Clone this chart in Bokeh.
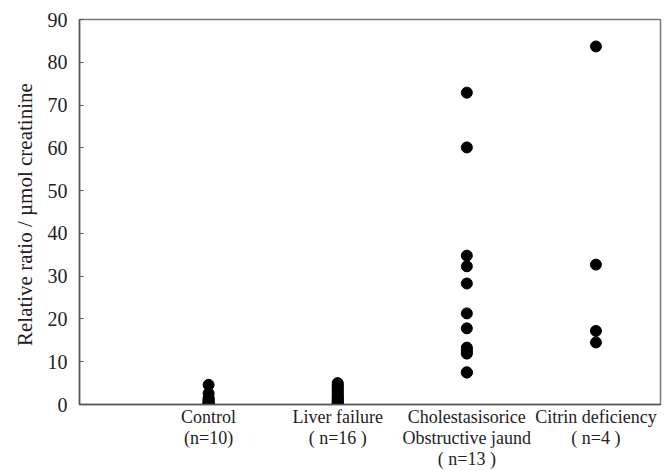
from bokeh.plotting import figure
from bokeh.models import FixedTicker, Range1d
from bokeh.embed import file_html
from bokeh.resources import INLINE

categories = ["Control", "Liver failure", "Cholestasis", "Citrin deficiency"]
cat_labels = ["Control\n(n=10)", "Liver failure\n( n=16 )",
              "Cholestasisorice\nObstructive jaund\n( n=13 )",
              "Citrin deficiency\n( n=4 )"]

control = [4.6, 2.6, 1.6, 1.2, 0.9, 0.6, 0.4, 0.3, 0.2, 0.1]
liver_failure = [5.0, 4.6, 4.2, 3.8, 3.4, 3.0, 2.6, 2.2, 1.8, 1.5, 1.2, 0.9, 0.6, 0.4, 0.2, 0.1]
cholestasis = [72.9, 60.1, 34.8, 32.3, 28.3, 21.3, 17.8, 13.3, 12.8, 12.3, 11.9, 7.5, 7.5]
citrin = [83.7, 32.7, 17.2, 14.5]

y_ticks = [0, 10, 20, 30, 40, 50, 60, 70, 80, 90]

groups = [control, liver_failure, cholestasis, citrin]

p = figure(width=664, height=471, output_backend="svg", toolbar_location=None,
           x_range=Range1d(0, 4.5), y_range=Range1d(0, 90),
           min_border_left=79, min_border_right=4, min_border_top=19, min_border_bottom=60)

xs, ys = [], []
for i, g in enumerate(groups):
    xs += [i + 1] * len(g)
    ys += g
p.scatter(xs, ys, size=11, color="black")

p.grid.visible = False
p.outline_line_color = "#777777"
p.outline_line_width = 1.5

font = "Liberation Serif"
ya = p.yaxis[0]
ya.ticker = FixedTicker(ticks=y_ticks)
ya.major_tick_in = 4
ya.major_tick_out = 0
ya.minor_tick_line_color = None
ya.axis_line_color = "#555555"
ya.axis_line_width = 1.5
ya.major_tick_line_color = "#555555"
ya.major_label_text_font = font
ya.major_label_text_font_size = "20px"
ya.major_label_text_color = "#222222"
ya.major_label_standoff = 12
ya.axis_label = "Relative  ratio / \u00b5mol creatinine"
ya.axis_label_text_font = font
ya.axis_label_text_font_size = "21px"
ya.axis_label_text_font_style = "normal"
ya.axis_label_text_color = "#222222"
ya.axis_label_standoff = 8

xa = p.xaxis[0]
xa.ticker = FixedTicker(ticks=[1, 2, 3, 4])
xa.major_label_overrides = {i + 1: lab for i, lab in enumerate(cat_labels)}
xa.major_tick_in = 0
xa.major_tick_out = 0
xa.minor_tick_line_color = None
xa.axis_line_color = "#555555"
xa.axis_line_width = 1.5
xa.major_label_text_font = font
xa.major_label_text_font_size = "18px"
xa.major_label_text_line_height = 1.05
xa.major_label_text_color = "#222222"
xa.major_label_standoff = 2

open("out.html", "w").write(file_html(p, INLINE))
